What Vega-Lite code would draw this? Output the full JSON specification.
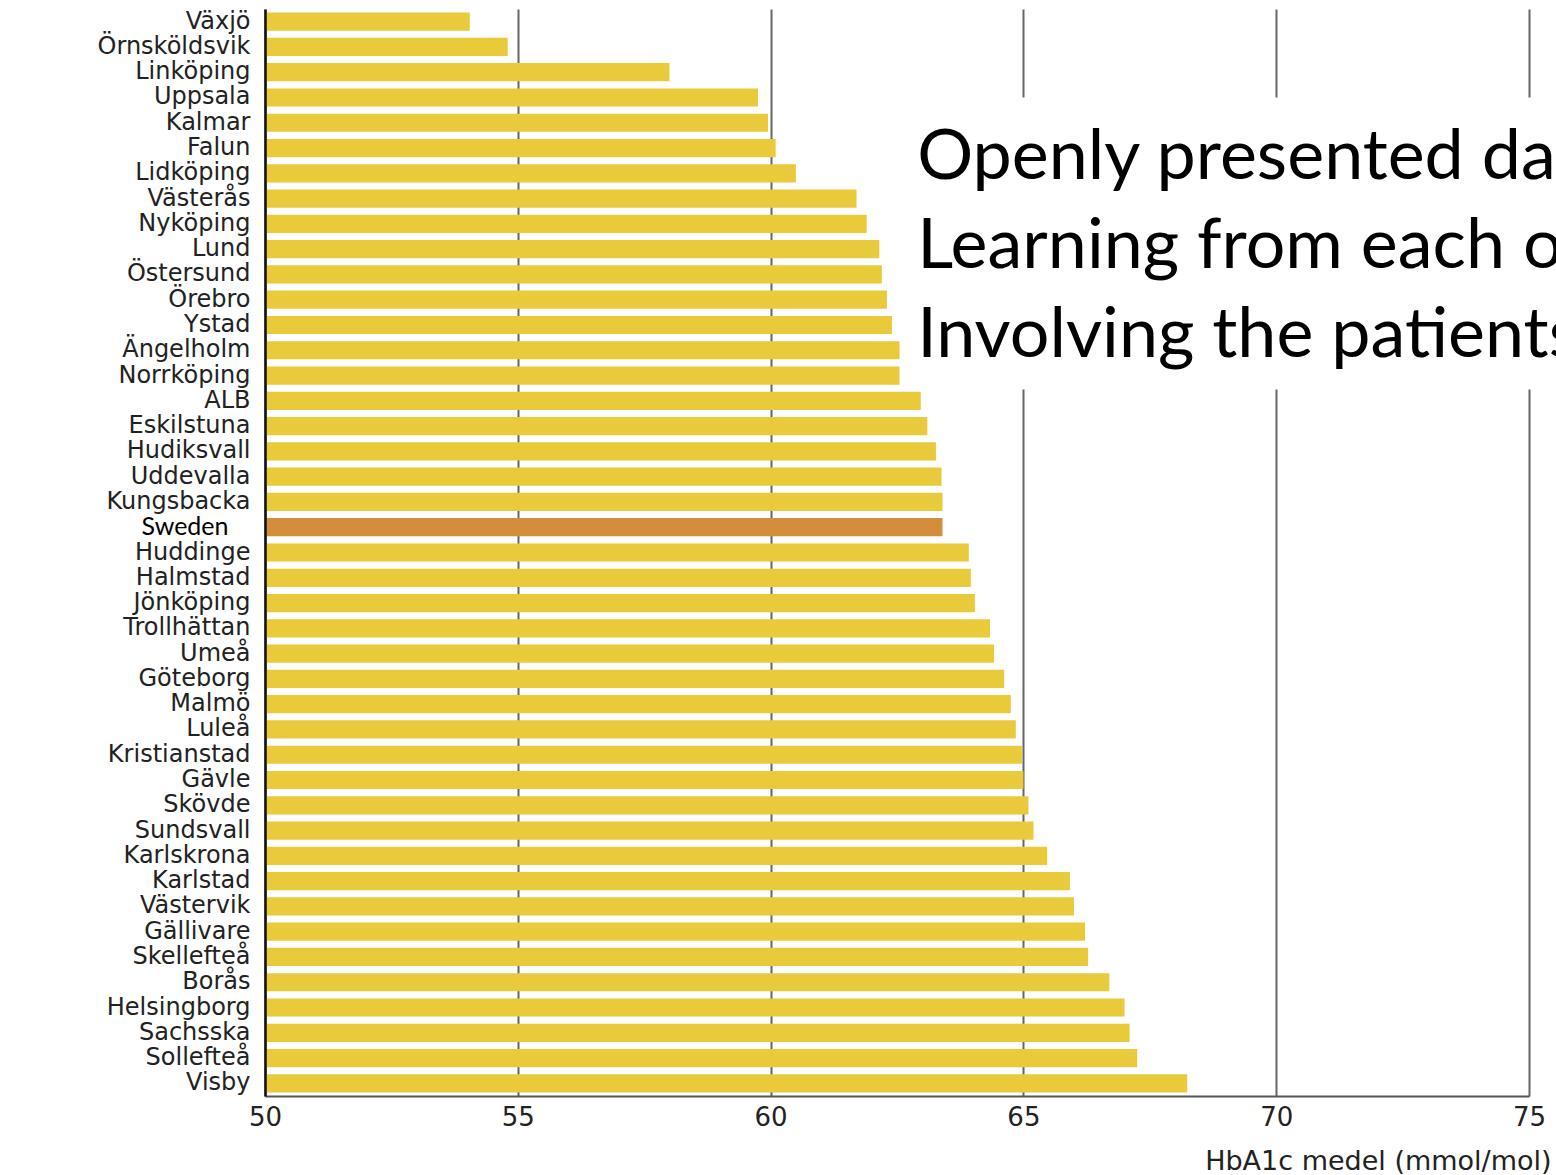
{
  "$schema": "https://vega.github.io/schema/vega-lite/v6.json",
  "autosize": {"type": "none"},
  "width": 1264,
  "height": 1087,
  "padding": {"left": 265, "top": 9, "right": 27, "bottom": 79},
  "background": "white",
  "config": {"view": {"stroke": null}},
  "datasets": {
    "clinics": [
      {"clinic": "Växjö", "hba1c": 54.05, "group": "clinic"},
      {"clinic": "Örnsköldsvik", "hba1c": 54.8, "group": "clinic"},
      {"clinic": "Linköping", "hba1c": 58.0, "group": "clinic"},
      {"clinic": "Uppsala", "hba1c": 59.75, "group": "clinic"},
      {"clinic": "Kalmar", "hba1c": 59.95, "group": "clinic"},
      {"clinic": "Falun", "hba1c": 60.1, "group": "clinic"},
      {"clinic": "Lidköping", "hba1c": 60.5, "group": "clinic"},
      {"clinic": "Västerås", "hba1c": 61.7, "group": "clinic"},
      {"clinic": "Nyköping", "hba1c": 61.9, "group": "clinic"},
      {"clinic": "Lund", "hba1c": 62.15, "group": "clinic"},
      {"clinic": "Östersund", "hba1c": 62.2, "group": "clinic"},
      {"clinic": "Örebro", "hba1c": 62.3, "group": "clinic"},
      {"clinic": "Ystad", "hba1c": 62.4, "group": "clinic"},
      {"clinic": "Ängelholm", "hba1c": 62.55, "group": "clinic"},
      {"clinic": "Norrköping", "hba1c": 62.55, "group": "clinic"},
      {"clinic": "ALB", "hba1c": 62.97, "group": "clinic"},
      {"clinic": "Eskilstuna", "hba1c": 63.1, "group": "clinic"},
      {"clinic": "Hudiksvall", "hba1c": 63.27, "group": "clinic"},
      {"clinic": "Uddevalla", "hba1c": 63.38, "group": "clinic"},
      {"clinic": "Kungsbacka", "hba1c": 63.4, "group": "clinic"},
      {"clinic": "Sweden", "hba1c": 63.4, "group": "national"},
      {"clinic": "Huddinge", "hba1c": 63.92, "group": "clinic"},
      {"clinic": "Halmstad", "hba1c": 63.96, "group": "clinic"},
      {"clinic": "Jönköping", "hba1c": 64.04, "group": "clinic"},
      {"clinic": "Trollhättan", "hba1c": 64.34, "group": "clinic"},
      {"clinic": "Umeå", "hba1c": 64.42, "group": "clinic"},
      {"clinic": "Göteborg", "hba1c": 64.62, "group": "clinic"},
      {"clinic": "Malmö", "hba1c": 64.75, "group": "clinic"},
      {"clinic": "Luleå", "hba1c": 64.85, "group": "clinic"},
      {"clinic": "Kristianstad", "hba1c": 64.97, "group": "clinic"},
      {"clinic": "Gävle", "hba1c": 65.0, "group": "clinic"},
      {"clinic": "Skövde", "hba1c": 65.1, "group": "clinic"},
      {"clinic": "Sundsvall", "hba1c": 65.2, "group": "clinic"},
      {"clinic": "Karlskrona", "hba1c": 65.47, "group": "clinic"},
      {"clinic": "Karlstad", "hba1c": 65.92, "group": "clinic"},
      {"clinic": "Västervik", "hba1c": 66.0, "group": "clinic"},
      {"clinic": "Gällivare", "hba1c": 66.22, "group": "clinic"},
      {"clinic": "Skellefteå", "hba1c": 66.28, "group": "clinic"},
      {"clinic": "Borås", "hba1c": 66.7, "group": "clinic"},
      {"clinic": "Helsingborg", "hba1c": 67.0, "group": "clinic"},
      {"clinic": "Sachsska", "hba1c": 67.1, "group": "clinic"},
      {"clinic": "Sollefteå", "hba1c": 67.25, "group": "clinic"},
      {"clinic": "Visby", "hba1c": 68.24, "group": "clinic"}
    ],
    "box": [
      {"x1": 62.65, "x2": 76, "r1": 3.5, "r2": 15.05}
    ],
    "notes": [
      {"note": "Openly presented data", "x": 62.9, "r": 6.72},
      {"note": "Learning from each other", "x": 62.9, "r": 10.24},
      {"note": "Involving the patients", "x": 62.9, "r": 13.76}
    ]
  },
  "layer": [
    {
      "data": {"name": "clinics"},
      "mark": {"type": "bar", "clip": true},
      "encoding": {
        "y": {
          "field": "clinic",
          "type": "nominal",
          "sort": null,
          "title": null,
          "scale": {"paddingInner": 0.28, "paddingOuter": 0.14},
          "axis": {
            "zindex": 1,
            "domainColor": "#111111",
            "domainWidth": 2.5,
            "ticks": false,
            "labelFont": {"condition": {"test": "datum.value === 'Sweden'", "value": "Lato"}, "value": "DejaVu Sans"},
            "labelFontSize": {"condition": {"test": "datum.value === 'Sweden'", "value": 25}, "value": 24},
            "labelColor": {"condition": {"test": "datum.value === 'Sweden'", "value": "#000000"}, "value": "#222222"},
            "labelPadding": {"condition": {"test": "datum.value === 'Sweden'", "value": 37}, "value": 15},
            "labelLimit": 400
          }
        },
        "x": {
          "field": "hba1c",
          "type": "quantitative",
          "title": "HbA1c medel (mmol/mol)",
          "scale": {"domain": [50, 75], "nice": false, "zero": false},
          "axis": {
            "values": [50, 55, 60, 65, 70, 75],
            "grid": true,
            "gridColor": "#666666",
            "gridWidth": 2,
            "gridOpacity": 1,
            "domainColor": "#555555",
            "domainWidth": 2,
            "ticks": false,
            "labelFont": "DejaVu Sans",
            "labelFontSize": 26,
            "labelColor": "#222222",
            "labelPadding": 8,
            "labelFlush": false,
            "labelOverlap": false,
            "titleFont": "DejaVu Sans",
            "titleFontSize": 27,
            "titleFontWeight": "normal",
            "titleColor": "#222222",
            "titleAlign": "right",
            "titleBaseline": "alphabetic",
            "titleX": 1286,
            "titleY": 73
          }
        },
        "color": {
          "field": "group",
          "type": "nominal",
          "scale": {"domain": ["clinic", "national"], "range": ["#E8CA3B", "#D38E3B"]},
          "legend": null
        }
      }
    },
    {
      "layer": [
        {
          "data": {"name": "box"},
          "mark": {"type": "rect", "fill": "white", "stroke": null},
          "encoding": {
            "x": {"field": "x1", "type": "quantitative", "title": "HbA1c medel (mmol/mol)"},
            "x2": {"field": "x2"},
            "y": {"field": "r1", "type": "quantitative", "scale": {"domain": [0, 43], "reverse": true, "nice": false, "zero": false}, "axis": null},
            "y2": {"field": "r2"}
          }
        },
        {
          "data": {"name": "notes"},
          "mark": {"type": "text", "font": "Lato", "fontSize": 70, "color": "#000000", "align": "left", "baseline": "alphabetic"},
          "encoding": {
            "text": {"field": "note"},
            "x": {"field": "x", "type": "quantitative", "title": "HbA1c medel (mmol/mol)"},
            "y": {"field": "r", "type": "quantitative", "axis": null}
          }
        }
      ]
    }
  ],
  "resolve": {"scale": {"y": "independent"}, "axis": {"y": "independent"}}
}
